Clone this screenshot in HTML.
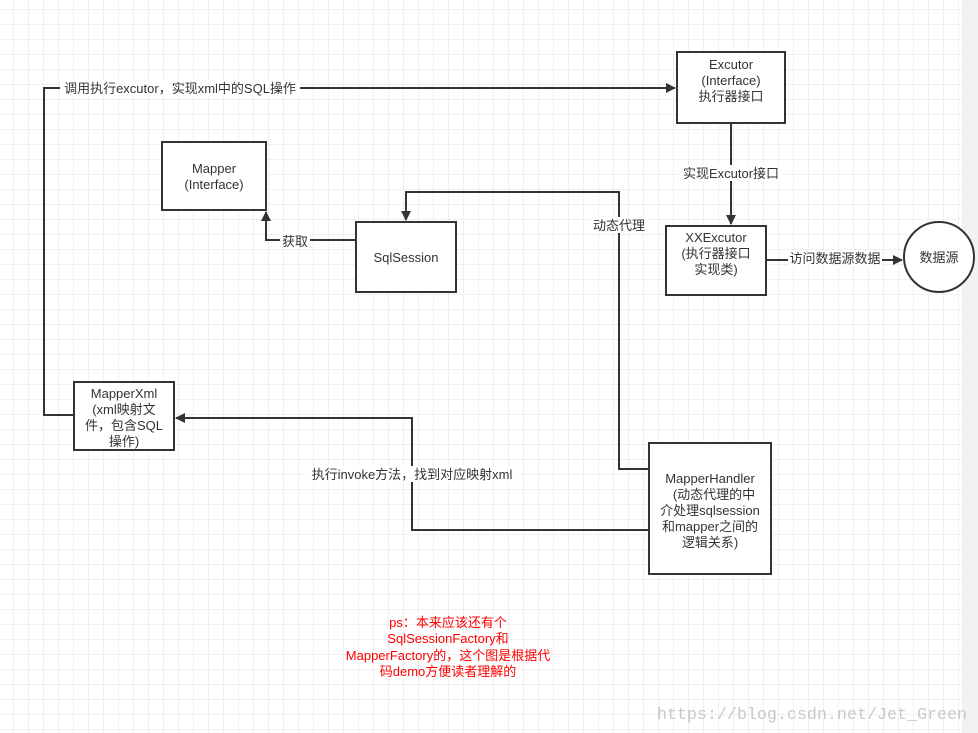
<!DOCTYPE html>
<html><head><meta charset="utf-8"><style>
html,body{margin:0;padding:0;background:#fff}
svg{display:block;font-family:"Liberation Sans","Noto Sans CJK SC",sans-serif}
</style></head><body>
<svg width="978" height="733" viewBox="0 0 978 733" xmlns="http://www.w3.org/2000/svg">
<defs>
<pattern id="g" x="13" y="9" width="15" height="15" patternUnits="userSpaceOnUse">
<path d="M0 0H15M0 0V15" stroke="#e2e2e2" stroke-width="1" fill="none"/>
</pattern>
<marker id="a" markerWidth="10" markerHeight="10" refX="9" refY="5" orient="auto" markerUnits="userSpaceOnUse">
<path d="M0,0 L10,5 L0,10 z" fill="#333"/>
</marker>
</defs>
<rect width="962" height="733" fill="url(#g)"/>
<rect x="962" y="0" width="16" height="733" fill="#f2f2f2"/>
<g stroke="#333" stroke-width="2" fill="none">
<path d="M74 415H44V88H675" marker-end="url(#a)"/>
<path d="M731 123V224" marker-end="url(#a)"/>
<path d="M766 260H902" marker-end="url(#a)"/>
<path d="M356 240H266V212" marker-end="url(#a)"/>
<path d="M649 469H619V192H406V220" marker-end="url(#a)"/>
<path d="M649 530H412V418H176" marker-end="url(#a)"/>
</g>
<g stroke="#333" stroke-width="2" fill="#fff">
<rect x="677" y="52" width="108" height="71"/>
<rect x="162" y="142" width="104" height="68"/>
<rect x="356" y="222" width="100" height="70"/>
<rect x="666" y="226" width="100" height="69"/>
<circle cx="939" cy="257" r="35"/>
<rect x="74" y="382" width="100" height="68"/>
<rect x="649" y="443" width="122" height="131"/>
</g>
<g font-size="13" fill="#333" text-anchor="middle">
<rect x="60" y="80" width="240" height="16" fill="#fff"/>
<text x="180" y="93">调用执行excutor，实现xml中的SQL操作</text>
<text x="731" y="69">Excutor</text>
<text x="731" y="85">(Interface)</text>
<text x="731" y="101">执行器接口</text>
<text x="214" y="173">Mapper</text>
<text x="214" y="189">(Interface)</text>
<text x="406" y="262">SqlSession</text>
<text x="716" y="242">XXExcutor</text>
<text x="716" y="258">(执行器接口</text>
<text x="716" y="274">实现类)</text>
<text x="939" y="262">数据源</text>
<text x="124" y="398">MapperXml</text>
<text x="124" y="414">(xml映射文</text>
<text x="124" y="430">件，包含SQL</text>
<text x="124" y="446">操作)</text>
<text x="710" y="483">MapperHandler</text>
<text x="714" y="499">(动态代理的中</text>
<text x="710" y="515">介处理sqlsession</text>
<text x="710" y="531">和mapper之间的</text>
<text x="710" y="547">逻辑关系)</text>
<rect x="680" y="165" width="102" height="16" fill="#fff"/>
<text x="731" y="178">实现Excutor接口</text>
<rect x="788" y="250" width="94" height="16" fill="#fff"/>
<text x="835" y="263">访问数据源数据</text>
<rect x="280" y="233" width="30" height="16" fill="#fff"/>
<text x="295" y="246">获取</text>
<rect x="590" y="217" width="58" height="16" fill="#fff"/>
<text x="619" y="230">动态代理</text>
<rect x="306" y="466" width="212" height="16" fill="#fff"/>
<text x="412" y="479">执行invoke方法，找到对应映射xml</text>
</g>
<g font-size="13" fill="#ff0000" text-anchor="middle">
<text x="448" y="627">ps：本来应该还有个</text>
<text x="448" y="643">SqlSessionFactory和</text>
<text x="448" y="660">MapperFactory的，这个图是根据代</text>
<text x="448" y="676">码demo方便读者理解的</text>
</g>
<text x="657" y="719" font-family="Liberation Mono,monospace" font-size="16.5" fill="#c8c8c8" textLength="310">https://blog.csdn.net/Jet_Green</text>
</svg>
</body></html>
